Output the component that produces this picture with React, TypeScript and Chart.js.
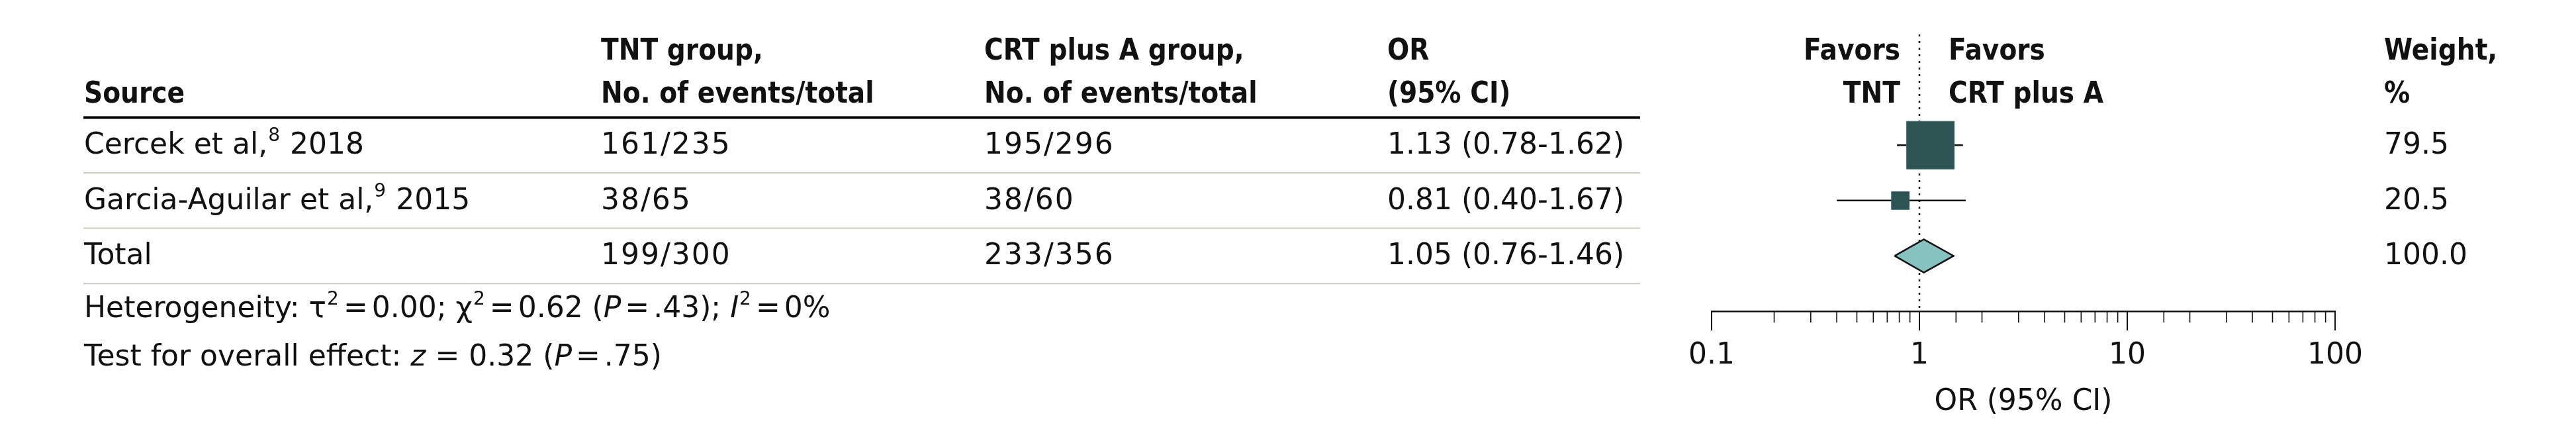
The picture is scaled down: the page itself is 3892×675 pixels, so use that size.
import React, { useEffect, useRef } from 'react';
import { Chart, registerables } from 'chart.js';

Chart.register(...registerables);

// ---------- data ----------
const sourceNames = ['Cercek et al,', 'Garcia-Aguilar et al,', 'Total'];
const sourceRefs = ['8', '9', ''];
const sourceYears = ['2018', '2015', ''];
const tntCounts = ['161/235', '38/65', '199/300'];
const crtCounts = ['195/296', '38/60', '233/356'];
const orEstimates = [1.13, 0.81, 1.05];
const ciLower = [0.78, 0.4, 0.76];
const ciUpper = [1.62, 1.67, 1.46];
const weightPct = [79.5, 20.5, 100.0];
const pooledRow = 2;
const axisTickValues = [0.1, 1, 10, 100];
const axisTickLabels = ['0.1', '1', '10', '100'];
const axisTitle = 'OR (95% CI)';

const headSource = ['', 'Source'];
const headTnt = ['TNT group,', 'No. of events/total'];
const headCrt = ['CRT plus A group,', 'No. of events/total'];
const headOr = ['OR', '(95% CI)'];
const headFavorsLeft = ['Favors', 'TNT'];
const headFavorsRight = ['Favors', 'CRT plus A'];
const headWeight = ['Weight,', '%'];

type Run = { t?: string; it?: boolean; sup?: boolean; g?: number };
const heterogeneityRuns: Run[] = [
  { t: 'Heterogeneity: τ' }, { t: '2', sup: true }, { g: 6 }, { t: '=' }, { g: 6 },
  { t: '0.00; χ' }, { t: '2', sup: true }, { g: 6 }, { t: '=' }, { g: 6 },
  { t: '0.62 (' }, { t: 'P', it: true }, { g: 6 }, { t: '=' }, { g: 6 }, { t: '.43); ' },
  { t: 'I', it: true }, { t: '2', sup: true }, { g: 6 }, { t: '=' }, { g: 6 }, { t: '0%' },
];
const overallRuns: Run[] = [
  { t: 'Test for overall effect: ' }, { t: 'z', it: true }, { t: ' = 0.32 (' },
  { t: 'P', it: true }, { g: 6 }, { t: '=' }, { g: 6 }, { t: '.75)' },
];

// ---------- style ----------
const FAM = '"DejaVu Sans", "Noto Sans", sans-serif';
const FS = 44;
const REG = `${FS}px ${FAM}`;
const BOLD = `bold 45px ${FAM}`;
const BOLD_SCALE = 0.87;
const INK = '#111111';
const RULE = '#c9cbbc';
const BOX = '#2b5453';
const DIAMOND = '#86c2c0';

const COL_SOURCE = 127;
const COL_TNT = 908;
const COL_CRT = 1487;
const COL_OR = 2096;
const COL_FAV_L = 2871;
const COL_FAV_R = 2944;
const COL_WEIGHT = 3602;
const RULE_X0 = 126;
const RULE_X1 = 2478;
const HEAD_Y1 = 90;
const HEAD_Y2 = 155;
const FOOT_Y1 = 479;
const FOOT_Y2 = 552;
const DIAMOND_HALF = 0.3; // in row units

const boxSide = (w: number) => 3.034 * Math.pow(w, 0.7237);

function drawBold(ctx: CanvasRenderingContext2D, text: string, x: number, y: number, align: CanvasTextAlign) {
  ctx.save();
  ctx.translate(x, y);
  ctx.scale(BOLD_SCALE, 1);
  ctx.font = BOLD;
  ctx.textAlign = align;
  ctx.fillText(text, 0, 0);
  ctx.restore();
}

function drawRuns(ctx: CanvasRenderingContext2D, runs: Run[], x: number, y: number) {
  let cx = x;
  ctx.save();
  ctx.textAlign = 'left';
  for (const r of runs) {
    if (r.g) { cx += r.g; continue; }
    const t = r.t || '';
    if (r.sup) {
      ctx.font = `28px ${FAM}`;
      ctx.fillText(t, cx + 1, y - 19);
      cx += ctx.measureText(t).width + 2;
    } else {
      ctx.font = r.it ? `italic ${FS}px ${FAM}` : REG;
      ctx.fillText(t, cx, y);
      cx += ctx.measureText(t).width;
    }
  }
  ctx.restore();
}

const tablePlugin = {
  id: 'forestTable',
  afterDraw(chart: any) {
    const ctx: CanvasRenderingContext2D = chart.ctx;
    const ys = chart.scales.y;
    const xs = chart.scales.x;
    ctx.save();
    ctx.fillStyle = INK;
    ctx.textBaseline = 'alphabetic';

    // axis ticks (major and minor) from the log scale
    ctx.strokeStyle = INK;
    const y0 = xs.top;
    xs.ticks.forEach((t: any) => {
      const px = xs.getPixelForValue(t.value);
      const lg = Math.log10(t.value);
      const major = Math.abs(lg - Math.round(lg)) < 1e-6;
      ctx.lineWidth = major ? 2 : 1.6;
      ctx.beginPath();
      ctx.moveTo(px, y0);
      ctx.lineTo(px, y0 + (major ? 29 : 17));
      ctx.stroke();
    });

    // headers
    const heads: [string[], number, CanvasTextAlign][] = [
      [headSource, COL_SOURCE, 'left'],
      [headTnt, COL_TNT, 'left'],
      [headCrt, COL_CRT, 'left'],
      [headOr, COL_OR, 'left'],
      [headFavorsLeft, COL_FAV_L, 'right'],
      [headFavorsRight, COL_FAV_R, 'left'],
      [headWeight, COL_WEIGHT, 'left'],
    ];
    heads.forEach(([lines, x, al]) => {
      if (lines[0]) drawBold(ctx, lines[0], x, HEAD_Y1, al);
      if (lines[1]) drawBold(ctx, lines[1], x, HEAD_Y2, al);
    });

    // rules
    ctx.strokeStyle = '#000';
    ctx.lineWidth = 4;
    const yh = ys.getPixelForValue(-0.5);
    ctx.beginPath(); ctx.moveTo(RULE_X0, yh); ctx.lineTo(RULE_X1, yh); ctx.stroke();
    ctx.strokeStyle = RULE;
    ctx.lineWidth = 2;
    sourceNames.forEach((_, i) => {
      const yr = ys.getPixelForValue(i + 0.5);
      ctx.beginPath(); ctx.moveTo(RULE_X0, yr); ctx.lineTo(RULE_X1, yr); ctx.stroke();
    });

    // rows
    sourceNames.forEach((name, i) => {
      const yb = ys.getPixelForValue(i) + 13;
      const runs: Run[] = [{ t: name }];
      if (sourceRefs[i]) runs.push({ t: sourceRefs[i], sup: true });
      if (sourceYears[i]) runs.push({ t: ' ' + sourceYears[i] });
      drawRuns(ctx, runs, COL_SOURCE, yb);
      ctx.font = REG;
      ctx.textAlign = 'left';
      (ctx as any).letterSpacing = '2px';
      ctx.fillText(tntCounts[i], COL_TNT, yb);
      ctx.fillText(crtCounts[i], COL_CRT, yb);
      (ctx as any).letterSpacing = '0px';
      ctx.fillText(
        `${orEstimates[i].toFixed(2)} (${ciLower[i].toFixed(2)}-${ciUpper[i].toFixed(2)})`,
        COL_OR, yb);
      ctx.fillText(weightPct[i].toFixed(1), COL_WEIGHT, yb);
    });

    // footnotes
    drawRuns(ctx, heterogeneityRuns, COL_SOURCE, FOOT_Y1);
    drawRuns(ctx, overallRuns, COL_SOURCE, FOOT_Y2);
    ctx.restore();
  },
};

export default function App() {
  const ref = useRef<HTMLCanvasElement | null>(null);
  useEffect(() => {
    if (!ref.current) return;
    const studyRows = orEstimates.map((_, i) => i).filter((i) => i !== pooledRow);
    const chart = new Chart(ref.current, {
      type: 'scatter',
      data: {
        datasets: [
          {
            type: 'line',
            label: 'null effect',
            data: [{ x: 1, y: -2 }, { x: 1, y: 3 }],
            borderColor: INK,
            borderWidth: 2.5,
            borderDash: [3, 7],
            pointRadius: 0,
            pointHoverRadius: 0,
            order: 10,
          } as any,
          ...studyRows.map((i) => ({
            type: 'line',
            label: 'CI ' + i,
            data: [{ x: ciLower[i], y: i }, { x: ciUpper[i], y: i }],
            borderColor: INK,
            borderWidth: 2.5,
            pointRadius: 0,
            pointHoverRadius: 0,
            order: 5,
          } as any)),
          {
            type: 'scatter',
            label: 'OR',
            data: studyRows.map((i) => ({ x: orEstimates[i], y: i })),
            pointStyle: 'rect',
            pointRadius: (c: any) => boxSide(weightPct[studyRows[c.dataIndex]]) / Math.SQRT2,
            pointHoverRadius: (c: any) => boxSide(weightPct[studyRows[c.dataIndex]]) / Math.SQRT2,
            backgroundColor: BOX,
            borderColor: '#3d6a69',
            borderWidth: 1,
            order: 1,
          } as any,
          {
            type: 'line',
            label: 'pooled',
            data: [
              { x: ciLower[pooledRow], y: pooledRow },
              { x: orEstimates[pooledRow], y: pooledRow - DIAMOND_HALF },
              { x: ciUpper[pooledRow], y: pooledRow },
              { x: orEstimates[pooledRow], y: pooledRow + DIAMOND_HALF },
              { x: ciLower[pooledRow], y: pooledRow },
            ],
            fill: 'shape',
            backgroundColor: DIAMOND,
            borderColor: INK,
            borderWidth: 2.5,
            borderJoinStyle: 'miter',
            tension: 0,
            pointRadius: 0,
            pointHoverRadius: 0,
            order: 2,
          } as any,
        ],
      },
      options: {
        animation: false,
        responsive: false,
        devicePixelRatio: 1,
        events: [],
        layout: { padding: { left: 2586, right: 364, top: 52, bottom: 0 } },
        plugins: { legend: { display: false }, tooltip: { enabled: false } },
        scales: {
          x: {
            type: 'logarithmic',
            min: 0.1,
            max: 100,
            position: 'bottom',
            grid: { display: false, drawTicks: false },
            border: { display: true, color: INK, width: 2.5 },
            ticks: {
              autoSkip: false,
              maxRotation: 0,
              minRotation: 0,
              padding: 41,
              color: INK,
              font: { size: FS, family: FAM },
              callback: (v: any) => {
                const k = axisTickValues.findIndex((t) => Math.abs(t - Number(v)) < 1e-9);
                return k >= 0 ? axisTickLabels[k] : '';
              },
            },
            title: {
              display: true,
              text: axisTitle,
              color: INK,
              font: { size: FS, family: FAM },
              padding: { top: 0, bottom: 41 },
            },
            afterFit: (s: any) => { s.height = 205; },
          },
          y: { type: 'linear', min: -2, max: 3, reverse: true, display: false },
        },
      } as any,
      plugins: [tablePlugin],
    });
    return () => chart.destroy();
  }, []);
  return (
    <div style={{ position: 'absolute', left: 0, top: 0, width: 3892, height: 675, background: '#fff' }}>
      <canvas ref={ref} width={3892} height={675} style={{ display: 'block' }} />
    </div>
  );
}
